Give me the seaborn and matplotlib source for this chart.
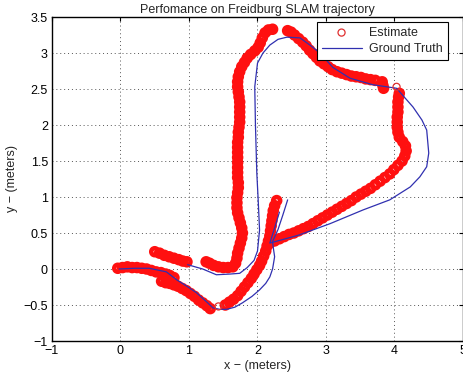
import numpy as np
import pandas as pd
import matplotlib
matplotlib.use("Agg")
import matplotlib.pyplot as plt
import seaborn as sns

# ---------------- data ----------------
# Estimate trajectory, in pieces (x, y) in metres
est_start = [(-0.04, 0.01), (0.03, 0.02), (0.10, 0.03), (0.17, 0.02), (0.24, 0.02),
             (0.31, 0.01), (0.38, 0.00), (0.45, -0.02), (0.52, -0.04), (0.59, -0.05),
             (0.66, -0.07), (0.72, -0.09), (0.78, -0.12)]
est_low = [(0.60, -0.17), (0.66, -0.19), (0.72, -0.20), (0.78, -0.22), (0.84, -0.24),
           (0.90, -0.27), (0.96, -0.30), (1.02, -0.34), (1.08, -0.38), (1.14, -0.43),
           (1.20, -0.47), (1.26, -0.51), (1.31, -0.55)]
est_single = [(1.43, -0.52), (4.03, 2.53)]
est_rise = [(1.53, -0.50), (1.59, -0.46), (1.65, -0.42), (1.71, -0.37), (1.76, -0.31),
            (1.81, -0.25), (1.86, -0.19), (1.91, -0.13), (1.95, -0.07), (1.99, -0.01),
            (2.03, 0.05), (2.06, 0.11), (2.09, 0.18), (2.12, 0.25), (2.14, 0.32),
            (2.16, 0.39), (2.18, 0.46), (2.19, 0.53), (2.20, 0.60), (2.21, 0.67),
            (2.22, 0.74), (2.23, 0.81), (2.25, 0.88), (2.28, 0.95)]
est_right = [(2.18, 0.36), (2.25, 0.39), (2.32, 0.42), (2.39, 0.45), (2.46, 0.48),
             (2.53, 0.50), (2.60, 0.53), (2.67, 0.56), (2.74, 0.59), (2.81, 0.63),
             (2.88, 0.67), (2.95, 0.71), (3.02, 0.75), (3.09, 0.79), (3.16, 0.83),
             (3.23, 0.87), (3.30, 0.91), (3.37, 0.95), (3.44, 1.00), (3.51, 1.04),
             (3.58, 1.08), (3.65, 1.12), (3.72, 1.17), (3.79, 1.22), (3.86, 1.27),
             (3.93, 1.32), (3.99, 1.38), (4.05, 1.44), (4.11, 1.50), (4.15, 1.57),
             (4.17, 1.64), (4.16, 1.71), (4.12, 1.77), (4.07, 1.83), (4.05, 1.90),
             (4.04, 1.97), (4.04, 2.04), (4.04, 2.11), (4.05, 2.18), (4.05, 2.25),
             (4.05, 2.32), (4.06, 2.39), (4.07, 2.44)]
est_blob = [(3.82, 2.60), (3.83, 2.55), (3.84, 2.51)]
est_top = [(3.72, 2.62), (3.65, 2.63), (3.58, 2.64), (3.51, 2.66), (3.44, 2.67),
           (3.37, 2.68), (3.30, 2.70), (3.23, 2.72), (3.16, 2.74), (3.09, 2.77),
           (3.03, 2.81), (2.97, 2.85), (2.91, 2.89), (2.86, 2.94), (2.81, 2.99),
           (2.76, 3.04), (2.71, 3.10), (2.66, 3.15), (2.60, 3.20), (2.54, 3.25),
           (2.49, 3.29), (2.44, 3.31)]
est_left = [(2.22, 3.33), (2.16, 3.32), (2.11, 3.28), (2.07, 3.21), (2.04, 3.14),
            (2.01, 3.08), (1.96, 3.03), (1.90, 2.98), (1.85, 2.93), (1.81, 2.87),
            (1.77, 2.81), (1.74, 2.74), (1.72, 2.67), (1.71, 2.60), (1.71, 2.53),
            (1.72, 2.46), (1.73, 2.39), (1.74, 2.32), (1.74, 2.25), (1.74, 2.18),
            (1.74, 2.11), (1.74, 2.04), (1.73, 1.97), (1.72, 1.90), (1.72, 1.83),
            (1.71, 1.76), (1.71, 1.69), (1.71, 1.62), (1.71, 1.55), (1.71, 1.48),
            (1.71, 1.41), (1.71, 1.34), (1.71, 1.27), (1.72, 1.20), (1.72, 1.13),
            (1.71, 1.06), (1.70, 0.99), (1.70, 0.92), (1.70, 0.85), (1.71, 0.78),
            (1.73, 0.71), (1.75, 0.64), (1.77, 0.57), (1.78, 0.50), (1.77, 0.43),
            (1.75, 0.36), (1.73, 0.29), (1.71, 0.22), (1.70, 0.15), (1.68, 0.08),
            (1.64, 0.03), (1.57, 0.02), (1.50, 0.02), (1.43, 0.03), (1.36, 0.05),
            (1.30, 0.08), (1.25, 0.10)]
est_short = [(0.50, 0.24), (0.57, 0.22), (0.64, 0.19), (0.71, 0.17), (0.78, 0.15),
             (0.85, 0.13), (0.91, 0.11), (0.97, 0.10)]

# Ground truth trajectory, two pieces
gt_a = [(-0.02, 0.00), (0.20, 0.01), (0.42, 0.01), (0.67, -0.04), (0.82, -0.15),
        (0.97, -0.24), (1.11, -0.33), (1.25, -0.45), (1.35, -0.54), (1.45, -0.56),
        (1.55, -0.56), (1.67, -0.53), (1.78, -0.47), (1.92, -0.38), (2.03, -0.29),
        (2.12, -0.20), (2.18, -0.11), (2.22, 0.00), (2.25, 0.17), (2.23, 0.30),
        (2.22, 0.38), (2.30, 0.55), (2.37, 0.75), (2.44, 0.96)]
gt_b = [(0.98, 0.06), (1.20, 0.00), (1.40, -0.08), (1.60, -0.07), (1.74, -0.06),
        (1.85, 0.02), (1.95, 0.12), (2.00, 0.25), (2.03, 0.54), (2.01, 0.96),
        (1.99, 1.33), (1.97, 2.00), (1.96, 2.53), (2.00, 2.86), (2.08, 3.00),
        (2.18, 3.11), (2.30, 3.19), (2.43, 3.22), (2.62, 3.21), (2.78, 3.10),
        (2.91, 3.00), (3.10, 2.80), (3.35, 2.65), (3.68, 2.56), (4.03, 2.51),
        (4.27, 2.25), (4.40, 2.07), (4.47, 1.93), (4.50, 1.61), (4.47, 1.42),
        (4.37, 1.28), (4.23, 1.14), (3.93, 0.96), (3.54, 0.82), (3.06, 0.63),
        (2.60, 0.47), (2.18, 0.36), (2.25, 0.57), (2.32, 0.79)]

x_ticks = [-1, 0, 1, 2, 3, 4, 5]
y_ticks = [-1, -0.5, 0, 0.5, 1, 1.5, 2, 2.5, 3, 3.5]
x_tick_labels = ["\u22121", "0", "1", "2", "3", "4", "5"]
y_tick_labels = ["\u22121", "\u22120.5", "0", "0.5", "1", "1.5", "2", "2.5", "3", "3.5"]
title = "Perfomance on Freidburg SLAM trajectory"
x_label = "x \u2212 (meters)"
y_label = "y \u2212 (meters)"

# ---------------- build tables ----------------
band_pieces = [est_start, est_low, est_rise, est_right, est_blob,
               est_top, est_left, est_short]
band_df = pd.DataFrame([p for piece in band_pieces for p in piece], columns=["x", "y"])
single_df = pd.DataFrame(est_single, columns=["x", "y"])
gt_rows = []
for i, piece in enumerate([gt_a, gt_b]):
    for (x, y) in piece:
        gt_rows.append((x, y, i))
gt_df = pd.DataFrame(gt_rows, columns=["x", "y", "seg"])

# ---------------- style ----------------
sns.set_style("white")
plt.rcParams["font.family"] = ["Liberation Sans", "DejaVu Sans"]
plt.rcParams["font.size"] = 9

fig = plt.figure(figsize=(4.64, 3.80), dpi=100)
ax = fig.add_axes([52 / 464, 39 / 380, 411 / 464, 324 / 380])

sns.lineplot(data=gt_df, x="x", y="y", units="seg", estimator=None, sort=False,
             color="#3030b0", linewidth=0.9, ax=ax, zorder=3, label="Ground Truth")
# dense estimate samples (heavily overlapping circles)
sns.scatterplot(data=band_df, x="x", y="y", marker="o", s=26, fc="none",
                ec="#ff1010", linewidth=3.2, ax=ax, zorder=2)
# isolated estimate samples
sns.scatterplot(data=single_df, x="x", y="y", marker="o", s=26, fc="none",
                ec="#e03030", linewidth=0.9, ax=ax, zorder=4, label="Estimate")

ax.set_xlim(-1, 5)
ax.set_ylim(-1, 3.5)
ax.set_xticks(x_ticks)
ax.set_xticklabels(x_tick_labels)
ax.set_yticks(y_ticks)
ax.set_yticklabels(y_tick_labels)
ax.tick_params(direction="in", length=3, width=0.8, labelsize=9, pad=3,
               top=True, right=True, colors="black")
ax.grid(True, linestyle=(0, (1, 3)), color="#555555", linewidth=0.7)
for sp in ax.spines.values():
    sp.set_visible(True)
    sp.set_color("black")
    sp.set_linewidth(1.0)

ax.set_title(title, fontsize=9, pad=3)
ax.set_xlabel(x_label, fontsize=9, labelpad=2)
ax.set_ylabel(y_label, fontsize=9, labelpad=4)

h, l = ax.get_legend_handles_labels()
order = [l.index("Estimate"), l.index("Ground Truth")]
leg = ax.legend([h[i] for i in order], [l[i] for i in order], loc="upper right",
                bbox_to_anchor=(0.963, 0.985), frameon=True, fancybox=False,
                framealpha=1, edgecolor="black", fontsize=9, handlelength=3.2,
                borderpad=0.4, labelspacing=0.35, handletextpad=0.6,
                borderaxespad=0)
leg.get_frame().set_linewidth(0.8)
leg.set_zorder(10)

fig.savefig("out.png", dpi=100)
